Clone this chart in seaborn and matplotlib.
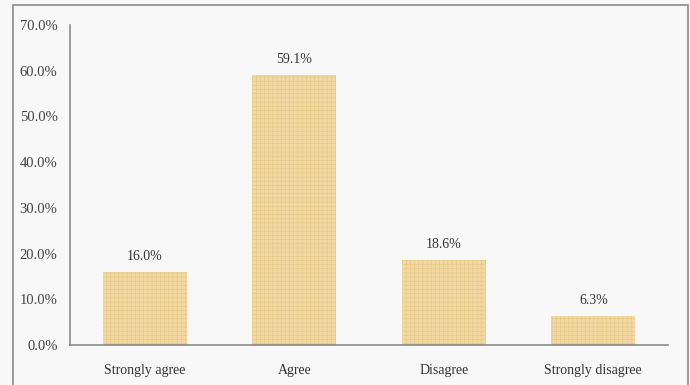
import matplotlib
matplotlib.use("Agg")
import matplotlib.pyplot as plt
import seaborn as sns
import pandas as pd
from matplotlib.patches import Rectangle

# Chart data
categories = ["Strongly agree", "Agree", "Disagree", "Strongly disagree"]
percentages = [16.0, 59.1, 18.6, 6.3]
y_ticks = [0, 10, 20, 30, 40, 50, 60, 70]

df = pd.DataFrame({"response": categories, "pct": percentages})

sns.set_theme(style="white")
plt.rcParams["font.family"] = ["Liberation Serif", "DejaVu Serif"]
plt.rcParams["hatch.linewidth"] = 0.4

fig = plt.figure(figsize=(6.9, 3.85), dpi=100, facecolor="#f8f8f8")
ax = fig.add_axes([70 / 690, 40 / 385, 598 / 690, 320 / 385])
ax.set_facecolor("#f8f8f8")

sns.barplot(data=df, x="response", y="pct", ax=ax, color="#f2d9a2",
            width=0.56, saturation=1, order=categories)

# woven texture on the bars
for bar in ax.patches:
    bar.set_hatch("++++")
    bar.set_edgecolor("#e5c684")
    bar.set_linewidth(0)

for i, v in enumerate(percentages):
    ax.text(i, v + 2.0, f"{v:.1f}%", ha="center", va="bottom",
            fontsize=10, color="#333333")

ax.set_ylim(0, 70)
ax.set_xlim(-0.5, 3.5)
ax.set_yticks(y_ticks)
ax.set_yticklabels([f"{t:.1f}%" for t in y_ticks], fontsize=10.5, color="#444444")
ax.tick_params(axis="x", labelsize=10, colors="#333333", pad=14, length=0)
ax.tick_params(axis="y", length=0, pad=9)
ax.set_xlabel("")
ax.set_ylabel("")

for side in ["top", "right"]:
    ax.spines[side].set_visible(False)
for side in ["left", "bottom"]:
    ax.spines[side].set_color("#8a8a8a")
    ax.spines[side].set_linewidth(1.2)

# outer frame around the chart area
fig.add_artist(Rectangle((13 / 690, -0.01), 675 / 690, 380 / 385 + 0.01,
                         transform=fig.transFigure, fill=False,
                         edgecolor="#8a8a8a", linewidth=1.2))

fig.savefig("out.png", dpi=100, facecolor=fig.get_facecolor())
